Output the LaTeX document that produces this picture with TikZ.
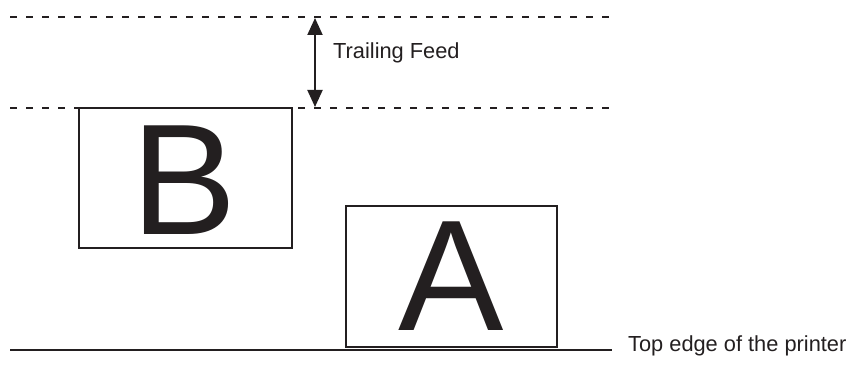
\documentclass[tikz,border=0pt]{standalone}
\usepackage{fontspec}
\setmainfont{Liberation Sans}
\usetikzlibrary{arrows.meta}
\definecolor{ink}{HTML}{231F20}
\tikzset{
  feedline/.style={draw=ink, line width=2pt, dash pattern=on 7pt off 9pt},
  sheet/.style={draw=ink, line width=1.5pt, rectangle, inner sep=0pt},
  bigletter/.style={font=\fontsize{158}{158}\selectfont, text=ink, inner sep=0pt},
  lbl/.style={font=\fontsize{21.8}{24}\selectfont, text=ink, inner sep=0pt, anchor=base west},
  dimarrow/.style={draw=ink, line width=2pt, {Triangle[length=17pt,width=15pt]}-{Triangle[length=17pt,width=15pt]}}
}
\begin{document}
\begin{tikzpicture}[x=1pt,y=-1pt]
\useasboundingbox (0,0) rectangle (852,374);
% dashed feed lines
\coordinate (t1) at (10,17);
\coordinate (t2) at (612,17);
\coordinate (b1) at (10,108);
\coordinate (b2) at (612,108);
\draw[feedline] (t1) -- (t2);
\draw[feedline] (b1) -- (b2);
% trailing feed arrow
\coordinate (au) at (315,18);
\coordinate (ad) at (315,107);
\draw[dimarrow] (au) -- (ad);
\node[lbl] (tf) at (333,59) {Trailing Feed};
% sheet B
\node[sheet, minimum width=213pt, minimum height=140pt] (boxB) at (185.5,178) {};
\node[bigletter] (B) at (184,180.5) {B};
% sheet A
\node[sheet, minimum width=211pt, minimum height=141pt] (boxA) at (451.5,276.5) {};
\node[bigletter] (A) at (451.5,276.5) {A};
% printer edge
\coordinate (e1) at (10,350);
\coordinate (e2) at (612,350);
\draw[draw=ink, line width=1.5pt] (e1) -- (e2);
\node[lbl] (te) at (628,352) {Top edge of the printer};
\end{tikzpicture}
\end{document}
